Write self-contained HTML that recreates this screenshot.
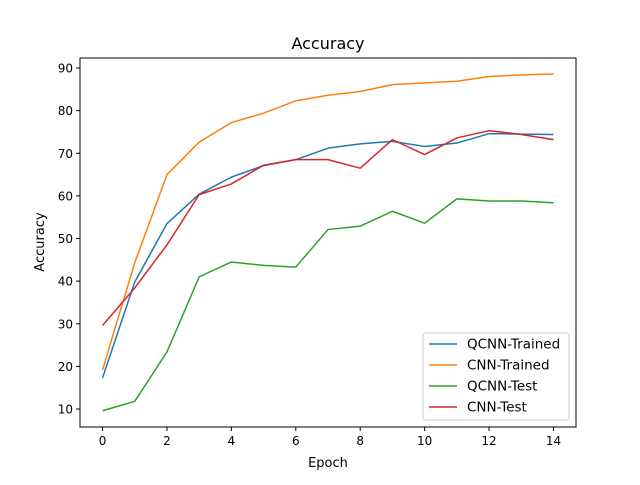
<!DOCTYPE html>
<html><head><meta charset="utf-8"><style>
body{margin:0;background:#fff}
svg{font-family:"DejaVu Sans","Liberation Sans",sans-serif}
</style></head><body>
<svg id="chart" width="640" height="480" viewBox="0 0 640 480">
<rect width="640" height="480" fill="#fff"/>
<text x="328" y="49" font-size="16" text-anchor="middle">Accuracy</text>
<g id="plot"></g>
<rect x="80" y="58" width="496" height="369" fill="none" stroke="#000" stroke-width="1"/>
<text x="328" y="467" font-size="13" text-anchor="middle">Epoch</text>
<text x="44" y="242" font-size="13" text-anchor="middle" transform="rotate(-90 44 242)">Accuracy</text>
<g id="legend"></g>
</svg>
<script>
const epochs=[0,1,2,3,4,5,6,7,8,9,10,11,12,13,14];
const qcnnTrained=[17.3,39.8,53.5,60.4,64.4,67.1,68.5,71.2,72.2,72.8,71.6,72.4,74.6,74.5,74.4];
const cnnTrained=[19.2,44.3,65,72.6,77.2,79.4,82.3,83.6,84.5,86.1,86.5,86.9,88,88.4,88.6];
const qcnnTest=[9.6,11.8,23.4,41,44.5,43.7,43.3,52.1,52.9,56.4,53.6,59.3,58.8,58.8,58.4];
const cnnTest=[29.6,38.4,48.5,60.3,62.8,67.2,68.5,68.5,66.5,73.2,69.7,73.6,75.3,74.4,73.2];
const xTicks=[0,2,4,6,8,10,12,14];
const yTicks=[10,20,30,40,50,60,70,80,90];
const seriesNames=["QCNN-Trained","CNN-Trained","QCNN-Test","CNN-Test"];
const NS="http://www.w3.org/2000/svg";
const L=80,R=576,T=58,B=427,xmin=-0.7,xmax=14.7,ymin=5.78,ymax=92.35;
const xs=v=>L+(v-xmin)/(xmax-xmin)*(R-L);
const ys=v=>B-(v-ymin)/(ymax-ymin)*(B-T);
const plot=document.getElementById('plot');
const svg=document.getElementById('chart');
function mk(tag,attrs,parent){const e=document.createElementNS(NS,tag);for(const k in attrs)e.setAttribute(k,attrs[k]);parent.appendChild(e);return e;}
xTicks.forEach(t=>{
  const x=xs(t);
  const l=mk('line',{x1:x,x2:x,y1:B,y2:B+4,stroke:'#000'},svg);
  
  
  const tx=mk('text',{x:x,y:B+18,'font-size':12,'text-anchor':'middle'},svg);
  tx.textContent=t;
  
  
});
yTicks.forEach(t=>{
  const y=ys(t);
  const l=mk('line',{x1:L-4,x2:L,y1:y,y2:y,stroke:'#000'},svg);
  
  
  const tx=mk('text',{x:L-7,y:y+4.5,'font-size':12,'text-anchor':'end'},svg);
  tx.textContent=t;
  
  
});
const colors=['#1f77b4','#ff7f0e','#2ca02c','#d62728'];
[qcnnTrained,cnnTrained,qcnnTest,cnnTest].forEach((s,i)=>{
  const p=mk('polyline',{points:s.map((v,j)=>xs(epochs[j])+','+ys(v)).join(' '),fill:'none',stroke:colors[i],'stroke-width':1.5,'stroke-linejoin':'round'},plot);
  
  
});
const lg=document.getElementById('legend');
const box=mk('rect',{x:423,y:333,width:146,height:87,rx:3,fill:'#fff','fill-opacity':0.8,stroke:'#ccc'},lg);


seriesNames.forEach((n,i)=>{
  const y=344+i*21;
  const l=mk('line',{x1:429,x2:457,y1:y,y2:y,stroke:colors[i],'stroke-width':1.5},lg);
  
  
  const t=mk('text',{x:467,y:y+4.5,'font-size':13.5},lg);
  t.textContent=n;
  
  
});
</script>
</body></html>
